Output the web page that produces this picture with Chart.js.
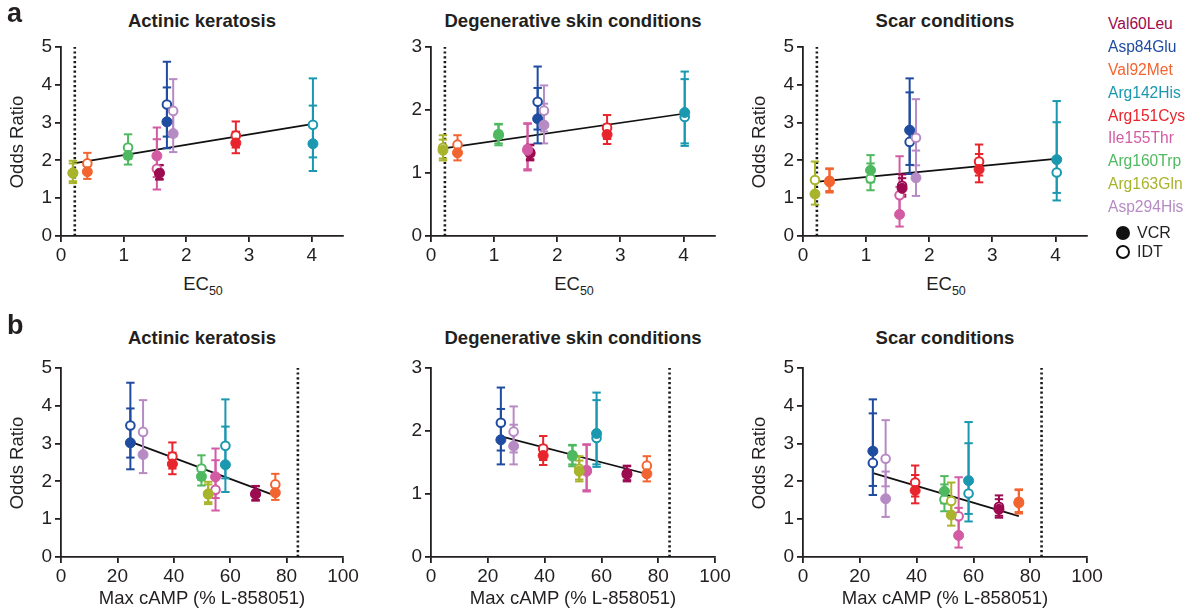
<!DOCTYPE html>
<html><head><meta charset="utf-8">
<script src="https://cdn.jsdelivr.net/npm/chart.js@4.4.1/dist/chart.umd.min.js"></script>
<style>
html,body{margin:0;padding:0;background:#fff;}
#wrap{position:relative;width:1192px;height:614px;overflow:hidden;font-family:'Liberation Sans',Arial,sans-serif;color:#231f20;}
canvas{position:absolute;}
.t{position:absolute;line-height:1;white-space:nowrap;transform:translate(-50%,-50%);}
.title{font-weight:bold;font-size:18.5px;}
.axt{font-size:18.5px;}
.yt{transform:translate(-50%,-50%) rotate(-90deg);}
.lg{position:absolute;font-size:15.6px;line-height:1;transform:translateY(-50%);white-space:nowrap;}
.letter{position:absolute;font-weight:bold;font-size:27px;line-height:1;}
.dot{position:absolute;border-radius:50%;box-sizing:border-box;transform:translate(-50%,-50%);}
sub{font-size:12.5px;vertical-align:-5px;line-height:0;}
</style></head><body><div id="wrap"></div>
<script>
// ---------- data ----------
const mutations = ['Val60Leu','Asp84Glu','Val92Met','Arg142His','Arg151Cys','Ile155Thr','Arg160Trp','Arg163Gln','Asp294His'];
const colors    = ['#9c0a50','#1f4ba0','#f26530','#1a98b0','#e8242c','#d35ba3','#4fb960','#a8b42c','#b68bc4'];

const ec50    = [1.57, 1.69, 0.42, 4.02, 2.79, 1.53, 1.07, 0.19, 1.79];
const maxCamp = [69.0, 24.6, 76.0, 58.3, 39.5, 54.8, 49.8, 52.2, 29.1];

// Actinic keratosis
const akVcr   = [1.66, 3.02, 1.70, 2.44, 2.46, 2.12, 2.13, 1.67, 2.71];
const akVcrLo = [1.49, 2.32, 1.51, 1.72, 2.19, 1.56, 1.89, 1.40, 2.22];
const akVcrHi = [1.88, 3.93, 1.91, 3.45, 2.76, 2.87, 2.40, 1.99, 3.31];
const akIdt   = [1.68, 3.48, 1.92, 2.94, 2.66, 1.78, 2.34, 1.66, 3.31];
const akIdtLo = [1.51, 2.63, 1.68, 2.08, 2.34, 1.23, 2.04, 1.45, 2.64];
const akIdtHi = [1.87, 4.61, 2.20, 4.17, 3.03, 2.56, 2.69, 1.92, 4.15];

// Degenerative skin conditions
const dscVcr   = [1.31, 1.86, 1.32, 1.96, 1.61, 1.36, 1.60, 1.36, 1.76];
const dscVcrLo = [1.20, 1.47, 1.20, 1.47, 1.46, 1.04, 1.44, 1.20, 1.47];
const dscVcrHi = [1.44, 2.35, 1.45, 2.61, 1.77, 1.78, 1.77, 1.53, 2.10];
const dscIdt   = [1.33, 2.13, 1.45, 1.89, 1.72, 1.38, 1.62, 1.40, 1.99];
const dscIdtLo = [1.22, 1.69, 1.31, 1.43, 1.54, 1.06, 1.47, 1.23, 1.66];
const dscIdtHi = [1.45, 2.69, 1.60, 2.49, 1.92, 1.79, 1.78, 1.60, 2.39];

// Scar conditions
const scVcr   = [1.26, 2.80, 1.43, 2.02, 1.76, 0.57, 1.74, 1.11, 1.54];
const scVcrLo = [1.04, 1.88, 1.15, 1.14, 1.42, 0.25, 1.42, 0.83, 1.06];
const scVcrHi = [1.53, 4.17, 1.77, 3.57, 2.17, 1.30, 2.14, 1.50, 2.26];
const scIdt   = [1.33, 2.49, 1.46, 1.68, 1.97, 1.08, 1.52, 1.48, 2.60];
const scIdtLo = [1.09, 1.64, 1.19, 0.94, 1.60, 0.55, 1.21, 1.11, 1.87];
const scIdtHi = [1.63, 3.80, 1.79, 3.01, 2.42, 2.11, 1.92, 1.97, 3.62];

// regression lines (end points)
const fitEc50X   = [0.2, 4.0];
const fitEc50Ak  = [1.92, 2.96];
const fitEc50Dsc = [1.39, 1.94];
const fitEc50Sc  = [1.43, 2.04];
const fitCampX   = [25, 75];
const fitCampAk  = [3.04, 1.65];
const fitCampDsc = [1.91, 1.33];
const fitCampSc  = [2.22, 1.08];
const fitCampScX = [24.7, 76];

// reference (wild type) values
const refEc50 = 0.22;
const refCamp = 84;

// tick labels
const ticksEc50 = [0, 1, 2, 3, 4];
const ticksCamp = [0, 20, 40, 60, 80, 100];
const ticksOr5  = [0, 1, 2, 3, 4, 5];
const ticksOr3  = [0, 1, 2, 3];

// ---------- layout ----------
const wrap = document.getElementById('wrap');
Chart.defaults.font.family = "'Liberation Sans', Arial, sans-serif";
Chart.defaults.color = '#231f20';

const panels = [
  {L:61,  R:343,  T:47,  B:236, xs:ec50, xMax:4.5, xt:ticksEc50, yMax:5, yt:ticksOr5, d:[akVcr,akVcrLo,akVcrHi,akIdt,akIdtLo,akIdtHi], fx:fitEc50X, fy:fitEc50Ak, ref:refEc50},
  {L:431, R:715,  T:47,  B:236, xs:ec50, xMax:4.5, xt:ticksEc50, yMax:3, yt:ticksOr3, d:[dscVcr,dscVcrLo,dscVcrHi,dscIdt,dscIdtLo,dscIdtHi], fx:fitEc50X, fy:fitEc50Dsc, ref:refEc50},
  {L:803, R:1087, T:47,  B:236, xs:ec50, xMax:4.5, xt:ticksEc50, yMax:5, yt:ticksOr5, d:[scVcr,scVcrLo,scVcrHi,scIdt,scIdtLo,scIdtHi], fx:fitEc50X, fy:fitEc50Sc, ref:refEc50},
  {L:61,  R:343,  T:368, B:557, xs:maxCamp, xMax:100, xt:ticksCamp, yMax:5, yt:ticksOr5, d:[akVcr,akVcrLo,akVcrHi,akIdt,akIdtLo,akIdtHi], fx:fitCampX, fy:fitCampAk, ref:refCamp},
  {L:431, R:715,  T:368, B:557, xs:maxCamp, xMax:100, xt:ticksCamp, yMax:3, yt:ticksOr3, d:[dscVcr,dscVcrLo,dscVcrHi,dscIdt,dscIdtLo,dscIdtHi], fx:fitCampX, fy:fitCampDsc, ref:refCamp},
  {L:803, R:1087, T:368, B:557, xs:maxCamp, xMax:100, xt:ticksCamp, yMax:5, yt:ticksOr5, d:[scVcr,scVcrLo,scVcrHi,scIdt,scIdtLo,scIdtHi], fx:fitCampScX, fy:fitCampSc, ref:refCamp}
];

const INK = '#231f20';
const YW = 40, XH = 30, PT = 12, PR = 30;

function axis(min, max, tickVals, isX) {
  return {
    type: 'linear', min: min, max: max,
    afterBuildTicks: s => { s.ticks = tickVals.map(v => ({value: v})); },
    ticks: {font: {size: 19}, color: INK, padding: isX ? 2 : 3, maxRotation: 0, autoSkip: false, includeBounds: false},
    grid: {display: true, drawOnChartArea: false, drawTicks: true, tickLength: 6, color: INK, lineWidth: 1.8},
    border: {display: true, color: INK, width: 1.8},
    afterFit: s => {
      if (isX) { s.height = XH; s.paddingLeft = 0; s.paddingRight = 0; }
      else { s.width = YW; s.paddingTop = 0; s.paddingBottom = 0; }
    }
  };
}

panels.forEach(p => {
  const cx = p.L - YW, cy = p.T - PT;
  const w = p.R - p.L + YW + PR, h = p.B - p.T + PT + XH;
  const cv = document.createElement('canvas');
  cv.width = w; cv.height = h;
  cv.style.left = cx + 'px'; cv.style.top = cy + 'px';
  cv.style.width = w + 'px'; cv.style.height = h + 'px';
  wrap.appendChild(cv);

  const [vcr, vLo, vHi, idt, iLo, iHi] = p.d;
  const ds = [];
  ds.push({data: p.xs.map((x, i) => ({x: x, y: vcr[i]})), showLine: false,
    pointRadius: 5, pointBorderWidth: 1, pointBackgroundColor: colors, pointBorderColor: colors, order: 0});
  ds.push({data: p.xs.map((x, i) => ({x: x, y: idt[i]})), showLine: false,
    pointRadius: 4.3, pointBorderWidth: 2, pointBackgroundColor: '#ffffff', pointBorderColor: colors, order: 1});
  p.xs.forEach((x, i) => {
    [[iLo, iHi], [vLo, vHi]].forEach(([lo, hi]) => {
      ds.push({data: [{x: x, y: lo[i]}, {x: x, y: hi[i]}], showLine: true,
        borderColor: colors[i], borderWidth: 2, pointStyle: 'line', pointRadius: 4.2,
        pointBorderWidth: 2, pointBorderColor: colors[i], pointBackgroundColor: colors[i], order: 2});
    });
  });
  ds.push({data: p.fx.map((x, j) => ({x: x, y: p.fy[j]})), showLine: true,
    borderColor: '#111', borderWidth: 1.7, pointRadius: 0, order: 3});
  ds.push({data: [{x: p.ref, y: 0}, {x: p.ref, y: p.yMax}], showLine: true,
    borderColor: '#1a1a1a', borderWidth: 2.6, borderDash: [2.2, 2.6], pointRadius: 0, order: 4});

  new Chart(cv, {
    type: 'scatter',
    data: {datasets: ds},
    options: {
      responsive: false, animation: false, events: [],
      layout: {padding: {left: 0, top: PT, right: PR, bottom: 0}},
      plugins: {legend: {display: false}, tooltip: {enabled: false}, title: {display: false}},
      scales: {x: axis(0, p.xMax, p.xt, true), y: axis(0, p.yMax, p.yt, false)}
    }
  });
});

// ---------- text ----------
function addText(html, cls, x, y) {
  const d = document.createElement('div');
  d.className = 't ' + cls; d.innerHTML = html;
  d.style.left = x + 'px'; d.style.top = y + 'px';
  wrap.appendChild(d);
}
const titles = ['Actinic keratosis', 'Degenerative skin conditions', 'Scar conditions'];
panels.forEach((p, k) => {
  const mid = (p.L + p.R) / 2;
  const top = k < 3;
  addText(titles[k % 3], 'title', mid, top ? 20.5 : 338);
  addText(top ? 'EC<sub>50</sub>' : 'Max cAMP (% L-858051)', 'axt', mid + (top ? 1 : 0), top ? 283.5 : 597.5);
  if (k % 3 !== 1) addText('Odds Ratio', 'axt yt', p.L - 44, (p.T + p.B) / 2);
});
['a', 'b'].forEach((s, k) => {
  const d = document.createElement('div');
  d.className = 'letter'; d.textContent = s;
  d.style.left = '7px'; d.style.top = (k ? 312 : 0) + 'px';
  wrap.appendChild(d);
});
const legendY = [24, 46.8, 69.8, 92.8, 115.6, 138.4, 161.2, 184, 206.8];
mutations.forEach((m, i) => {
  const d = document.createElement('div');
  d.className = 'lg'; d.textContent = m; d.style.color = colors[i];
  d.style.left = '1108px'; d.style.top = legendY[i] + 'px';
  wrap.appendChild(d);
});
[['VCR', 233, true], ['IDT', 252, false]].forEach(([lab, y, filled]) => {
  const c = document.createElement('div');
  c.className = 'dot';
  c.style.left = '1123px'; c.style.top = y + 'px';
  c.style.width = '14px'; c.style.height = '14px';
  c.style.background = filled ? '#111' : '#fff';
  c.style.border = '2.4px solid #111';
  wrap.appendChild(c);
  const d = document.createElement('div');
  d.className = 'lg'; d.textContent = lab; d.style.color = INK;
  d.style.left = '1137px'; d.style.top = y + 'px'; d.style.fontSize = '16px';
  wrap.appendChild(d);
});
</script></body></html>
